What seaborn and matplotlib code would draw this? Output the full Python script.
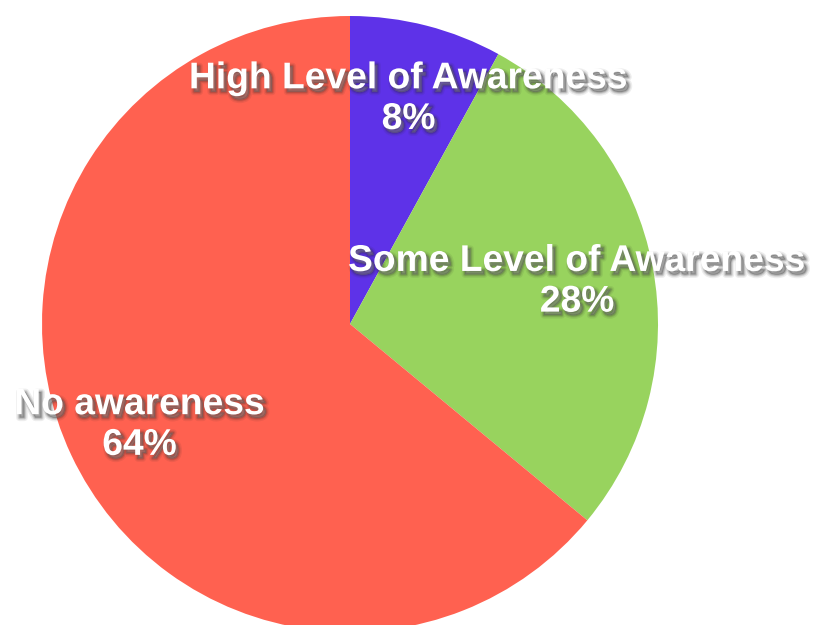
import matplotlib
matplotlib.use("Agg")
import matplotlib.pyplot as plt
import matplotlib.patheffects as pe
import seaborn as sns

categories = ["High Level of Awareness", "Some Level of Awareness", "No awareness"]
values = [8, 28, 64]
colors = ["#5E32E8", "#98D35E", "#FF6150"]
label_pos = [(0.19, 0.73), (0.737, 0.137), (-0.683, -0.328)]

sns.set_style("white")
plt.rcParams['font.family'] = ['Liberation Sans', 'DejaVu Sans']

fig = plt.figure(figsize=(8.13, 6.25), dpi=100)
ax = fig.add_axes([0, 0, 1, 1])
ax.pie(values, colors=colors, startangle=90, counterclock=False, radius=1.0,
       wedgeprops=dict(linewidth=0))
ax.set_xlim(-350/308, (813-350)/308)
ax.set_ylim(-301/308, 324/308)
ax.set_aspect('auto')
ax.axis('off')

sh = (0.15, 0.15, 0.15)
shadow = [pe.Stroke(offset=(2, -2.5), linewidth=5, foreground=sh, alpha=0.08),
          pe.Stroke(offset=(2, -2.5), linewidth=3, foreground=sh, alpha=0.12),
          pe.Stroke(offset=(2, -2.5), linewidth=1.5, foreground=sh, alpha=0.18),
          pe.SimplePatchShadow(offset=(2, -2.5), shadow_rgbFace=sh, alpha=0.35),
          pe.Normal()]
for cat, v, (x, y) in zip(categories, values, label_pos):
    ax.text(x, y, f"{cat}\n{v}%", ha="center", va="center", color="white",
            fontsize=26.8, fontweight="bold", linespacing=1.21,
            path_effects=shadow)

fig.savefig("out.png", dpi=100)
